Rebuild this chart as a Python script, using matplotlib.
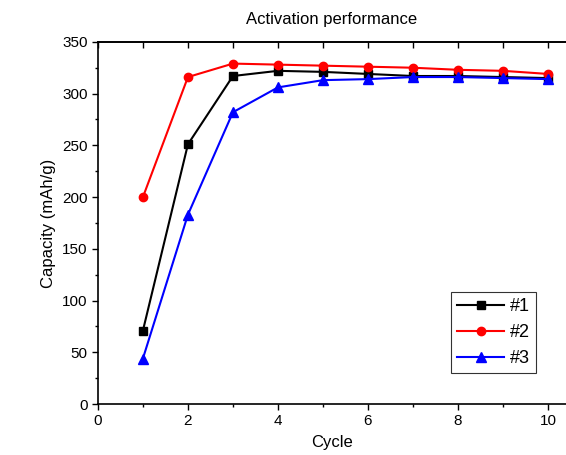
import matplotlib
matplotlib.use("Agg")
import matplotlib.pyplot as plt
from matplotlib.ticker import MultipleLocator, NullFormatter

plt.rcParams['font.family'] = ['Liberation Sans', 'DejaVu Sans']

# Data
cycles = [1, 2, 3, 4, 5, 6, 7, 8, 9, 10]
cap_1 = [71, 251, 317, 322, 321, 319, 317, 317, 316, 315]
cap_2 = [200, 316, 329, 328, 327, 326, 325, 323, 322, 319]
cap_3 = [44, 183, 282, 306, 313, 314, 316, 316, 315, 314]

fig = plt.figure(figsize=(5.66, 4.55), dpi=100)
ax = fig.add_axes([0.173, 0.112, 0.827, 0.796])

ax.plot(cycles, cap_1, color='black', marker='s', markersize=6, linewidth=1.5, label='#1')
ax.plot(cycles, cap_2, color='red', marker='o', markersize=6, linewidth=1.5, label='#2')
ax.plot(cycles, cap_3, color='blue', marker='^', markersize=7, linewidth=1.5, label='#3')

ax.set_xlim(0, 10.4)
ax.set_ylim(0, 350)
ax.xaxis.set_major_locator(MultipleLocator(2))
ax.xaxis.set_minor_locator(MultipleLocator(1))
ax.yaxis.set_major_locator(MultipleLocator(50))
ax.yaxis.set_minor_locator(MultipleLocator(25))
ax.tick_params(which='major', direction='out', length=4, width=1, labelsize=11)
ax.tick_params(which='minor', direction='out', length=2.5, width=1)
ax.spines['right'].set_visible(False)
for s in ['left', 'bottom', 'top']:
    ax.spines[s].set_linewidth(1.2)

# top axis: inward ticks every cycle, no labels
top = ax.secondary_xaxis('top')
top.xaxis.set_major_locator(MultipleLocator(1))
top.xaxis.set_major_formatter(NullFormatter())
top.tick_params(direction='in', length=4, width=1)
top.spines['top'].set_linewidth(1.2)

ax.set_xlabel('Cycle', fontsize=12, labelpad=5)
ax.set_ylabel('Capacity (mAh/g)', fontsize=12)
ax.set_title('Activation performance', fontsize=12, pad=13)

leg = ax.legend(loc='lower right', bbox_to_anchor=(0.955, 0.06), fontsize=13,
                frameon=True, fancybox=False, edgecolor='black',
                handlelength=2.6, borderpad=0.35, labelspacing=0.5, handletextpad=0.3)
leg.get_frame().set_linewidth(0.8)

fig.savefig('out.png', dpi=100)
